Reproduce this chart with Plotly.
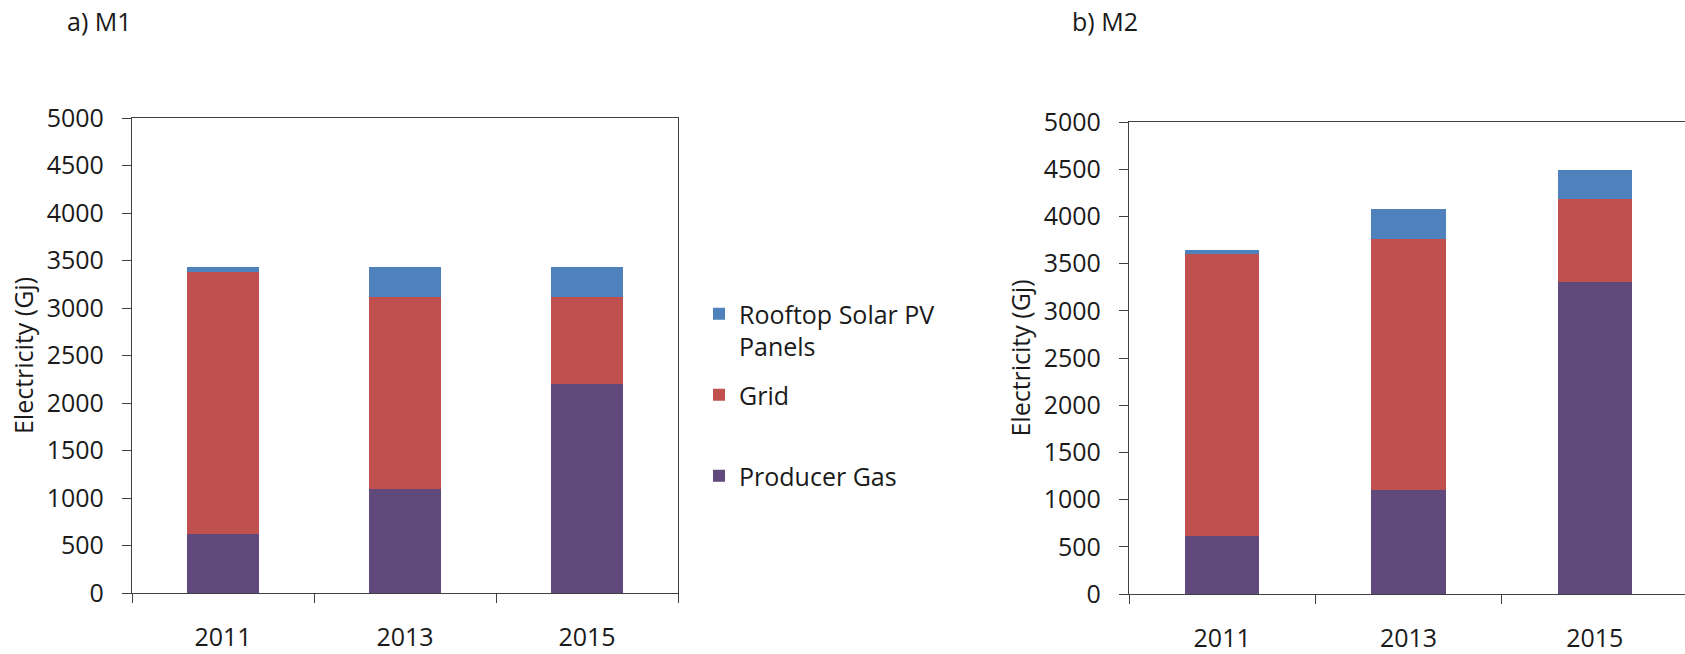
import plotly.graph_objects as go

years = ["2011", "2013", "2015"]

m1_producer_gas = [620, 1100, 2200]
m1_grid = [2760, 2020, 920]
m1_solar = [50, 310, 310]

m2_producer_gas = [610, 1100, 3300]
m2_grid = [2990, 2665, 885]
m2_solar = [40, 315, 305]

y_ticks = [0, 500, 1000, 1500, 2000, 2500, 3000, 3500, 4000, 4500, 5000]

colors = {"Producer Gas": "#604A7B", "Grid": "#C0504D", "Solar": "#4F81BD"}
FONT = "Open Sans"
FS = 25
TXT = "#1a1a1a"
AX = "#404040"

fig = go.Figure()

groups = [
    ("gas", colors["Producer Gas"], m1_producer_gas, m2_producer_gas, 3, "Producer Gas"),
    ("grid", colors["Grid"], m1_grid, m2_grid, 2, "Grid<br> "),
    ("solar", colors["Solar"], m1_solar, m2_solar, 1, "Rooftop Solar PV<br>Panels"),
]

for grp, col, v1, v2, rank, legname in groups:
    fig.add_trace(go.Bar(x=years, y=v1, name=legname, marker=dict(color=col, line=dict(width=0)),
                         legendgroup=grp, legendrank=rank, xaxis="x", yaxis="y"))
    fig.add_trace(go.Bar(x=years, y=v2, name=legname, marker=dict(color=col, line=dict(width=0)),
                         legendgroup=grp, legendrank=rank, showlegend=False, xaxis="x2", yaxis="y2"))

axis_common_y = dict(range=[0, 5000], tickvals=y_ticks, ticks="outside", ticklen=9, tickcolor=AX,
                     tickwidth=1.3, showline=True, linecolor=AX, linewidth=1.3, showgrid=False,
                     zeroline=False, tickfont=dict(family=FONT, size=FS, color=TXT),
                     ticklabelstandoff=13, automargin=False,
                     title=dict(text="Electricity (Gj)", font=dict(family=FONT, size=FS, color=TXT), standoff=5))
axis_common_x = dict(type="category", ticks="outside", tickson="boundaries", ticklen=9, tickcolor=AX,
                     tickwidth=1.3, showline=True, linecolor=AX, linewidth=1.3, showgrid=False,
                     tickfont=dict(family=FONT, size=FS, color=TXT), ticklabelstandoff=22, automargin=False)

fig.update_layout(
    width=1685, height=654,
    margin=dict(l=0, r=0, t=0, b=0, autoexpand=False),
    paper_bgcolor="white", plot_bgcolor="white",
    barmode="stack", bargap=0.6,
    xaxis=dict(domain=[132/1685, 678/1685], range=[-0.5, 2.5], mirror=True, anchor="y", **axis_common_x),
    yaxis=dict(domain=[61/654, 536/654], mirror=True, anchor="x", **axis_common_y),
    xaxis2=dict(domain=[1129/1685, 1.0], range=[-0.5, 2.484], mirror=True, anchor="y2", **axis_common_x),
    yaxis2=dict(domain=[60/654, 532/654], anchor="x2", **axis_common_y),
    legend=dict(x=699/1685, y=1 - 291/654, xanchor="left", yanchor="top", valign="top",
                font=dict(family=FONT, size=FS, color=TXT), tracegroupgap=13,
                bgcolor="rgba(0,0,0,0)"),
    showlegend=True,
    annotations=[
        dict(text="a) M1", x=65/1685, y=1 - 21/654, xref="paper", yref="paper", xanchor="left",
             yanchor="middle", showarrow=False, font=dict(family=FONT, size=FS, color=TXT)),
        dict(text="b) M2", x=1070/1685, y=1 - 21/654, xref="paper", yref="paper", xanchor="left",
             yanchor="middle", showarrow=False, font=dict(family=FONT, size=FS, color=TXT)),
    ],
)

fig.write_html("out.html", config={"displayModeBar": False},
               post_script="document.body.style.margin='0';document.body.style.overflow='hidden';")
